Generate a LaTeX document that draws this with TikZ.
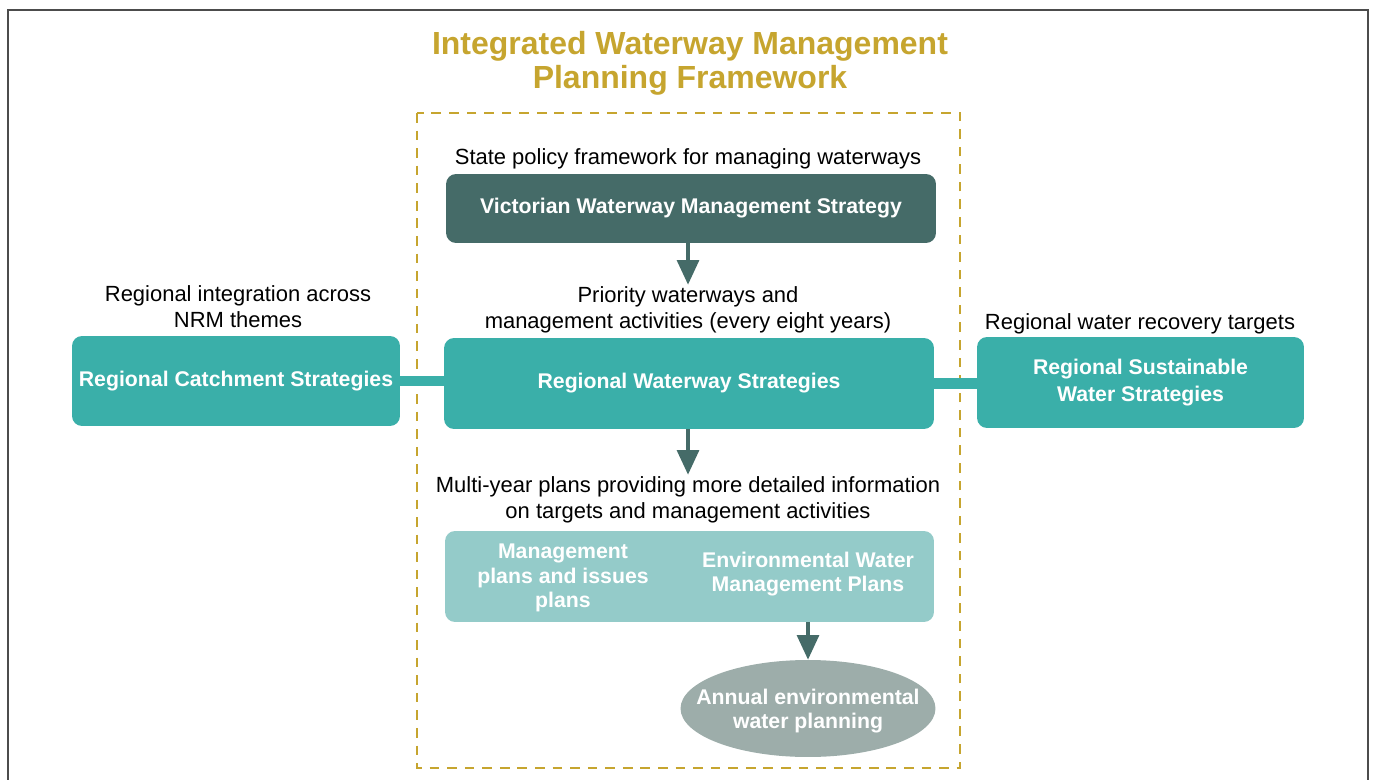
\documentclass[tikz,border=0pt]{standalone}
\usepackage{fontspec}
\setmainfont{Liberation Sans}
\usetikzlibrary{arrows.meta,shapes.geometric}
\definecolor{gold}{HTML}{C6A52F}
\definecolor{darkteal}{HTML}{456B68}
\definecolor{midteal}{HTML}{3AAFA9}
\definecolor{lightteal}{HTML}{94CBC9}
\definecolor{greyteal}{HTML}{9DADAA}

\begin{document}
\begin{tikzpicture}[x=0.02cm, y=-0.02cm,
  box/.style={rectangle, rounded corners=0.2cm, align=center, text=white, inner sep=0pt,
    font=\fontsize{12.1}{14}\selectfont\bfseries},
  lbl/.style={align=center, inner sep=1pt, font=\fontsize{12.5}{14.8}\selectfont},
  arr/.style={draw=darkteal, line width=1.8pt, -{Triangle[width=12.5pt, length=14pt]}},
  bar/.style={draw=midteal, line width=5.9pt}]
  \useasboundingbox (0,0) rectangle (1375,780);
  \draw [line width=1.1pt, black!70] (8,780) -- (8,10) -- (1368,10) -- (1368,780);
  \draw [line width=1.1pt, gold, dash pattern=on 5.5pt off 4.5pt] (417,113) rectangle (960,768);
  \node (title) [align=center, text=gold, font=\fontsize{18.2}{19.2}\selectfont\bfseries] at (690,63.5)
    {Integrated Waterway Management\\Planning Framework};
  \node (state) [lbl] at (688,159) {State policy framework for managing waterways};
  \node (vwms) [box, fill=darkteal, minimum width=9.8cm, minimum height=1.38cm] at (691,208.5)
    {Victorian Waterway Management Strategy};
  \node (prio) [lbl] at (688,310) {Priority waterways and\\management activities (every eight years)};
  \node (rws) [box, fill=midteal, minimum width=9.8cm, minimum height=1.82cm] at (689,383.5)
    {Regional Waterway Strategies};
  \node (regint) [lbl] at (238,307) {Regional integration across\\NRM themes};
  \node (rcs) [box, fill=midteal, minimum width=6.56cm, minimum height=1.8cm] at (236,381)
    {Regional Catchment Strategies};
  \node (recov) [lbl] at (1140,324) {Regional water recovery targets};
  \node (rsws) [box, fill=midteal, minimum width=6.54cm, minimum height=1.82cm, font=\fontsize{12.1}{15.4}\selectfont\bfseries] at (1140.5,382.5)
    {Regional Sustainable\\Water Strategies};
  \node (multi) [lbl] at (688,500) {Multi-year plans providing more detailed information\\on targets and management activities};
  \node (mp) [box, fill=lightteal, minimum width=9.78cm, minimum height=1.82cm] at (689.5,576.5) {};
  \node (mgmt) [box] at (563,578) {Management\\plans and issues\\plans};
  \node (ewmp) [box] at (808,574) {Environmental Water\\Management Plans};
  \node (annual) [ellipse, fill=greyteal, inner sep=0pt, minimum width=5.1cm, minimum height=1.94cm] at (808,708.5) {};
  \node (annualtxt) [box] at (808,711) {Annual environmental\\water planning};
  \draw [bar] (rcs.east) -- (rcs.east -| rws.west);
  \draw [bar] (rws.east) -- (rws.east -| rsws.west);
  \draw [arr] (vwms.south -| prio.north) -- (prio.north);
  \draw [arr] (rws.south -| multi.north) -- (multi.north);
  \draw [arr] (mp.south -| annual.north) -- (annual.north);
\end{tikzpicture}
\end{document}
